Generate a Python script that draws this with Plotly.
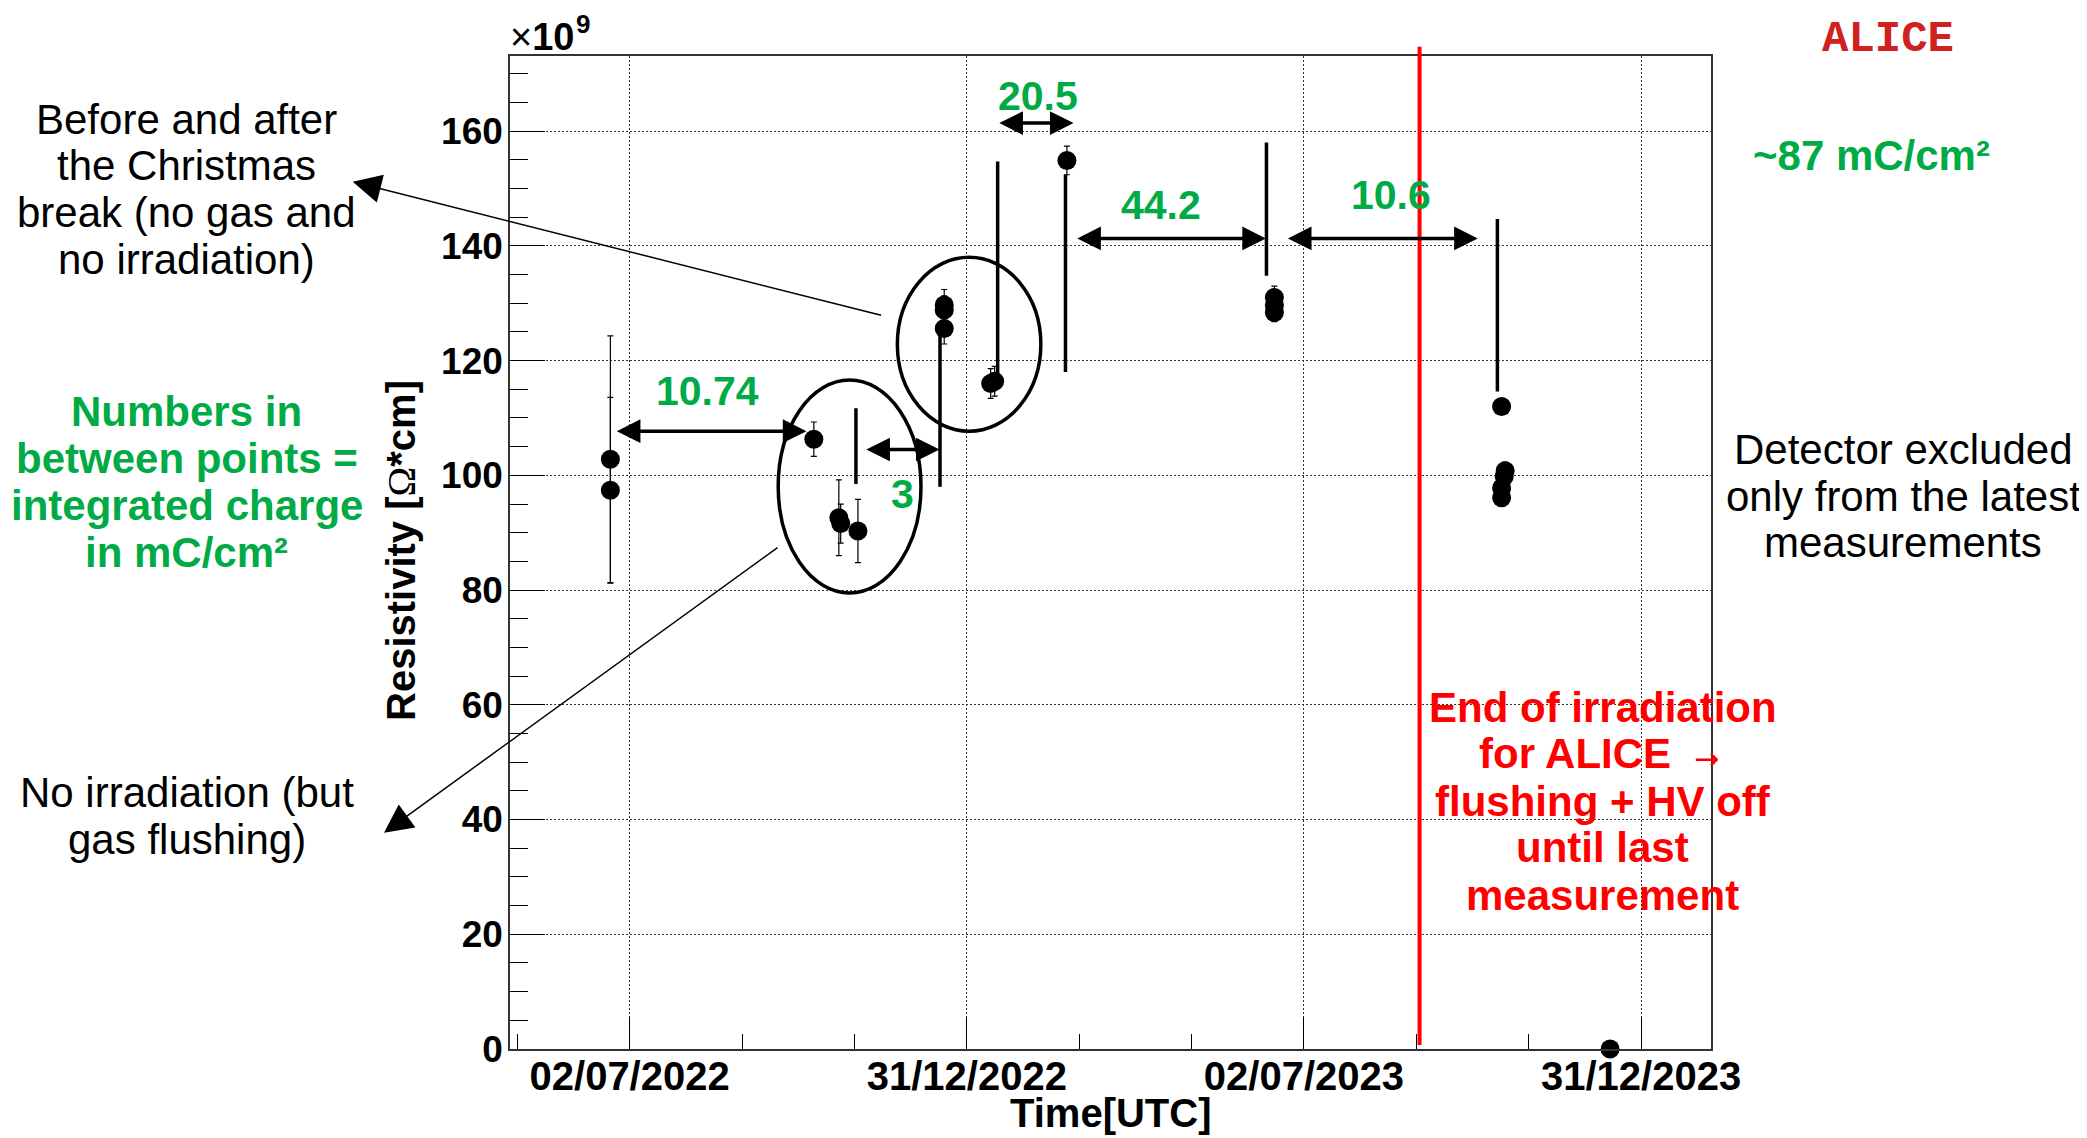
import plotly.graph_objects as go

# ---------------- data ----------------
meas_dates = [
    "2022-06-21 14:00", "2022-06-21 14:00",
    "2022-10-09 17:00",
    "2022-10-23 06:00", "2022-10-24 06:00",
    "2022-11-02 14:00",
    "2022-12-19 07:00", "2022-12-19 07:00", "2022-12-19 07:00",
    "2023-01-13 10:00", "2023-01-15 14:00",
    "2023-02-23 17:00",
    "2023-06-16 00:00", "2023-06-16 00:00", "2023-06-16 00:00",
    "2023-10-17 00:00",
    "2023-10-18 22:00", "2023-10-18 10:00", "2023-10-17 00:00", "2023-10-17 00:00",
    "2023-12-14 17:00",
]
resistivity = [
    102.8, 97.4,
    106.3,
    92.6, 91.6,
    90.3,
    129.7, 128.8, 125.6,
    116.0, 116.4,
    154.9,
    131.0, 129.6, 128.4,
    112.0,
    100.8, 99.8, 97.8, 96.1,
    0.0,
]
resistivity_err = [
    21.5, 16.2,
    3.0,
    6.6, 3.4,
    5.5,
    2.7, 2.5, 2.7,
    2.6, 2.6,
    2.5,
    2.0, 1.8, 1.6,
    0.8,
    1.5, 1.0, 1.0, 1.0,
    0.0,
]

x_tick_vals = ["2022-07-02 00:00", "2022-12-31 12:00", "2023-07-02 00:00", "2023-12-31 12:00"]
x_tick_text = ["02/07/2022", "31/12/2022", "02/07/2023", "31/12/2023"]
x_minor_vals = ["2022-05-02 04:00", "2022-08-31 20:00", "2022-10-31 16:00",
                "2023-03-02 08:00", "2023-05-02 04:00", "2023-08-31 20:00", "2023-10-31 16:00"]
y_tick_vals = [0, 20, 40, 60, 80, 100, 120, 140, 160]
y_tick_text = ["0", "20", "40", "60", "80", "100", "120", "140", "160"]

# separator lines (date, y from, y to)
sep_dates = ["2022-11-01 12:00", "2022-12-17 00:00", "2023-01-17 05:00",
             "2023-02-22 22:00", "2023-06-11 17:00", "2023-10-14 17:00"]
sep_y0 = [98.5, 98.0, 116.3, 118.0, 134.8, 114.6]
sep_y1 = [111.7, 125.6, 154.7, 152.4, 158.0, 144.7]

# integrated-charge double arrows
charge_from = ["2022-06-24 06:00", "2022-11-06 07:00", "2023-01-17 07:00",
               "2023-02-28 12:00", "2023-06-22 12:00"]
charge_to = ["2022-10-05 17:00", "2022-12-16 19:00", "2023-02-27 07:00",
             "2023-06-11 10:00", "2023-10-04 02:00"]
charge_arrow_y = [107.7, 104.5, 161.4, 141.3, 141.3]
charge_labels = ["10.74", "3", "20.5", "44.2", "10.6"]
charge_label_x = ["2022-08-13 05:00", "2022-11-26 17:00", "2023-02-08 00:00",
                  "2023-04-15 14:00", "2023-08-18 00:00"]
charge_label_y = [114.7, 96.7, 166.2, 147.2, 148.9]

# ellipses (x0, x1, y0, y1)
ell_x0 = ["2022-09-20 10:00", "2022-11-23 22:00"]
ell_x1 = ["2022-12-06 17:00", "2023-02-09 14:00"]
ell_y0 = [79.5, 107.7]
ell_y1 = [116.6, 138.0]

end_irradiation_date = "2023-09-02 14:00"

# ---------------- layout geometry ----------------
W, H = 2087, 1138
PAGE_OFF = 8                      # default body margin of the html page
SCR_L, SCR_T = 510, 56            # plot frame in the screenshot
PW, PH = 1201, 993
ML, MT = SCR_L - PAGE_OFF, SCR_T - PAGE_OFF
MR, MB = W - ML - PW, H - MT - PH


def px(x):
    return (x - SCR_L) / PW


def py(y):
    return (SCR_T + PH - y) / PH


FONT = "Liberation Sans"
GREEN = "#00AA45"
RED = "#FF0000"

fig = go.Figure()
fig.add_trace(go.Scatter(
    x=meas_dates, y=resistivity, mode="markers",
    marker=dict(color="black", size=19, symbol="circle", line=dict(width=0)),
    error_y=dict(type="data", array=resistivity_err, color="black", thickness=1.2, width=3),
    cliponaxis=False, showlegend=False, hoverinfo="x+y",
))

shapes = []
for d, a, b in zip(sep_dates, sep_y0, sep_y1):
    shapes.append(dict(type="line", xref="x", yref="y", x0=d, x1=d, y0=a, y1=b,
                       line=dict(color="black", width=3.5), layer="above"))
for a, b, c, d in zip(ell_x0, ell_x1, ell_y0, ell_y1):
    shapes.append(dict(type="circle", xref="x", yref="y", x0=a, x1=b, y0=c, y1=d,
                       line=dict(color="black", width=3.5), fillcolor="rgba(0,0,0,0)", layer="above"))
shapes.append(dict(type="line", xref="x", yref="paper", x0=end_irradiation_date, x1=end_irradiation_date,
                   y0=py(1045), y1=py(46.7), line=dict(color=RED, width=4), layer="above"))

ann = []
for xa, xb, yv in zip(charge_from, charge_to, charge_arrow_y):
    ann.append(dict(x=xb, y=yv, ax=xa, ay=yv, xref="x", yref="y", axref="x", ayref="y",
                    text="", showarrow=True, arrowhead=2, startarrowhead=2, arrowside="end+start",
                    arrowsize=1.35, startarrowsize=1.35, arrowwidth=3.5, arrowcolor="black",
                    standoff=0, startstandoff=0))
for t, xv, yv in zip(charge_labels, charge_label_x, charge_label_y):
    ann.append(dict(x=xv, y=yv, xref="x", yref="y", text=t, showarrow=False,
                    xanchor="center", yanchor="middle",
                    font=dict(family=FONT, size=41, color=GREEN, weight="bold")))

# thin pointer arrows (tip outside the frame, tail inside)
ann.append(dict(x=px(352.7), y=py(181.7), xref="paper", yref="paper", axref="pixel", ayref="pixel",
                ax=529.9, ay=134.0, text="", showarrow=True, arrowhead=2, arrowsize=3.8,
                arrowwidth=1.5, arrowcolor="black", standoff=0))
ann.append(dict(x=px(384), y=py(832.7), xref="paper", yref="paper", axref="pixel", ayref="pixel",
                ax=395.0, ay=-286.2, text="", showarrow=True, arrowhead=2, arrowsize=3.8,
                arrowwidth=1.5, arrowcolor="black", standoff=0))


def text_lines(lines, xc, ys, size, color, weight="normal", family=FONT):
    for line, yc in zip(lines, ys):
        ann.append(dict(x=px(xc), y=py(yc), xref="paper", yref="paper", text=line, showarrow=False,
                        xanchor="center", yanchor="middle",
                        font=dict(family=family, size=size, color=color, weight=weight)))


text_lines(["Before and after", "the Christmas", "break (no gas and", "no irradiation)"],
           186.7, [119.0, 165.8, 212.6, 259.4], 42, "black")
text_lines(["Numbers in", "between points =", "integrated charge", "in mC/cm²"],
           186.7, [411.6, 458.5, 505.4, 552.3], 42, GREEN, "bold")
text_lines(["No irradiation (but", "gas flushing)"], 186.7, [792.0, 839.0], 42, "black")
text_lines(["Detector excluded", "only from the latest", "measurements"],
           1903.0, [449.7, 496.2, 542.6], 42, "black")
text_lines(["~87 mC/cm²"], 1871.7, [156.0], 42, GREEN, "bold")
text_lines(["ALICE"], 1888.3, [39.2], 44, "#D02020", "bold", "Liberation Mono")
text_lines(["End of irradiation"], 1602.5, [707.2], 42, RED, "bold")
text_lines(["for ALICE"], 1574.8, [753.6], 42, RED, "bold")
text_lines(["→"], 1706.0, [758.0], 30, RED, "normal", "DejaVu Sans")
text_lines(["flushing + HV off", "until last", "measurement"],
           1602.5, [801.6, 847.9, 895.6], 42, RED, "bold")

# axis titles and exponent
ann.append(dict(x=px(1110.6), y=py(1113), xref="paper", yref="paper", text="Time[UTC]", showarrow=False,
                xanchor="center", yanchor="middle", font=dict(family=FONT, size=40, color="black", weight="bold")))
ann.append(dict(x=px(401), y=py(551), xref="paper", yref="paper", textangle=-90,
                text="<b>Resistivity [</b><span style='font-family:Liberation Serif'>Ω</span><b>*cm]</b>",
                showarrow=False, xanchor="center", yanchor="middle",
                font=dict(family=FONT, size=40, color="black")))
ann.append(dict(x=px(508), y=py(36.5), xref="paper", yref="paper", text="×<b>10</b>", showarrow=False,
                xanchor="left", yanchor="middle", font=dict(family=FONT, size=38, color="black")))
ann.append(dict(x=px(583), y=py(24), xref="paper", yref="paper", text="<b>9</b>", showarrow=False,
                xanchor="center", yanchor="middle", font=dict(family=FONT, size=26, color="black")))

GRID = dict(showgrid=True, gridcolor="#333333", griddash="2px,2px", gridwidth=1)

fig.update_layout(
    width=W, height=H,
    margin=dict(l=ML, r=MR, t=MT, b=MB, autoexpand=False),
    paper_bgcolor="white", plot_bgcolor="white",
    showlegend=False,
    shapes=shapes, annotations=ann,
    xaxis=dict(
        type="date", range=["2022-04-28 06:00", "2024-02-07 08:00"],
        tickmode="array", tickvals=x_tick_vals, ticktext=x_tick_text,
        ticks="inside", ticklen=32, tickwidth=1, tickcolor="black",
        tickfont=dict(family=FONT, size=40, color="black", weight="bold"),
        ticklabelstandoff=-9,
        showline=True, linecolor="#333333", linewidth=1.5, mirror=True,
        zeroline=False, automargin=False,
        minor=dict(tickmode="array", tickvals=x_minor_vals, ticks="inside", ticklen=15,
                   tickwidth=1, tickcolor="black", showgrid=False),
        **GRID,
    ),
    yaxis=dict(
        range=[0, 173.1],
        tickmode="array", tickvals=y_tick_vals, ticktext=y_tick_text,
        ticks="inside", ticklen=35, tickwidth=1, tickcolor="black",
        tickfont=dict(family=FONT, size=37, color="black", weight="bold"),
        ticklabelstandoff=-2,
        showline=True, linecolor="#333333", linewidth=1.5, mirror=True,
        zeroline=False, automargin=False,
        minor=dict(tick0=0, dtick=5, ticks="inside", ticklen=18, tickwidth=1,
                   tickcolor="black", showgrid=False),
        **GRID,
    ),
)

fig.write_html("out.html")
